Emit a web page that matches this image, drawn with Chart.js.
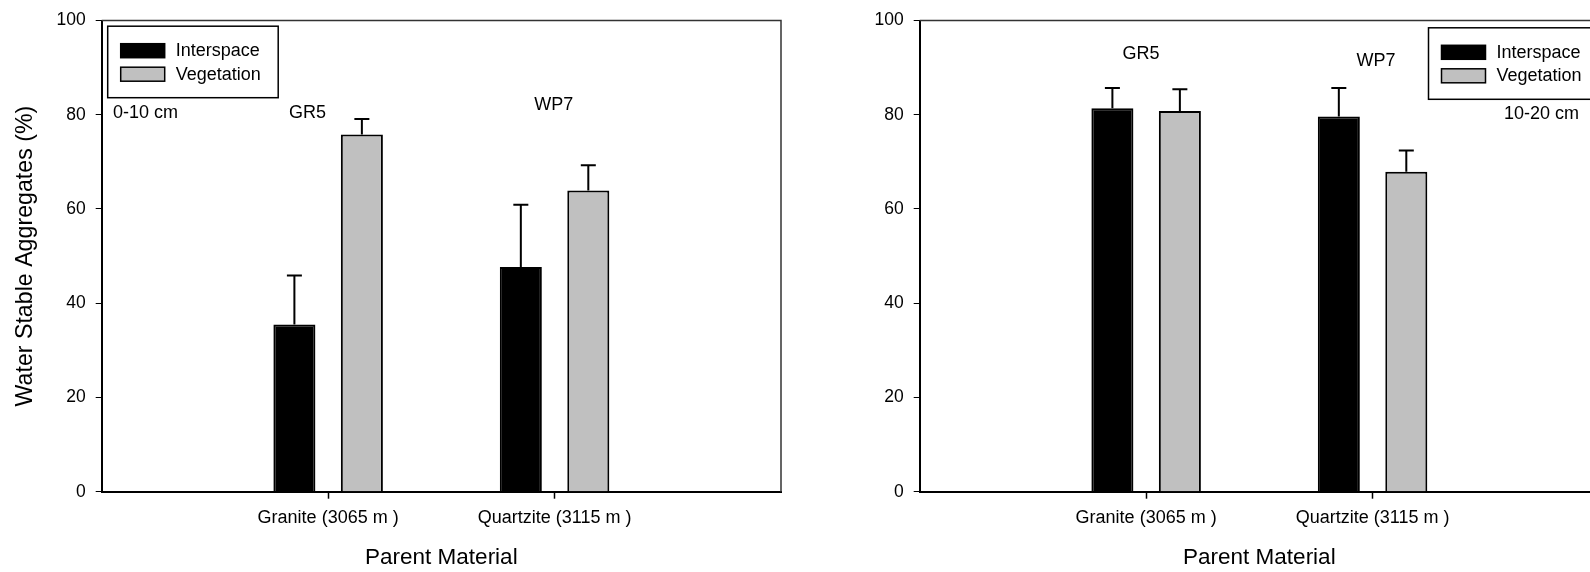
<!DOCTYPE html>
<html>
<head>
<meta charset="utf-8">
<script src="https://cdn.jsdelivr.net/npm/chart.js@4.4.1/dist/chart.umd.min.js"></script>
<style>
  html, body { margin: 0; padding: 0; background: #fff; }
  body { width: 1590px; height: 572px; overflow: hidden; position: relative; }
  canvas { position: absolute; top: 0; }
  #chartTop { left: 0; }
  #chartSub { left: 818px; }
</style>
</head>
<body>
<canvas id="chartTop" width="818" height="572"></canvas>
<canvas id="chartSub" width="818" height="572"></canvas>
<script>
// sites along the x axis, with an empty slot at both ends
const sites = ["Granite (3065 m )", "Quartzite (3115 m )"];
const seriesNames = ["Interspace", "Vegetation"];

// 0-10 cm depth
const interspaceTop = [35.5, 47.7];
const interspaceTopErr = [10.4, 13.2];
const vegetationTop = [75.8, 63.9];
const vegetationTopErr = [3.3, 5.4];

// 10-20 cm depth
const interspaceSub = [81.4, 79.6];
const interspaceSubErr = [4.3, 6.1];
const vegetationSub = [80.8, 67.9];
const vegetationSubErr = [4.6, 4.5];

const yMin = 0;
const yMax = 100;
const yStep = 20;

const labels = ["", ...sites, ""];
const pad = arr => [null, ...arr, null];

Chart.defaults.font.family = "'Liberation Sans', Arial, sans-serif";
Chart.defaults.color = "#000";

// frame, error bars, legend box and text notes
const panelExtras = {
    id: "panelExtras",
    afterDatasetsDraw(chart, args, opts) {
        const { ctx, chartArea: a, scales: { x, y } } = chart;
        ctx.save();

        ctx.strokeStyle = "#333";
        ctx.lineWidth = 1.5;
        ctx.beginPath();
        ctx.moveTo(a.left, a.top);
        ctx.lineTo(a.right, a.top);
        ctx.lineTo(a.right, a.bottom);
        ctx.stroke();

        // upper error bars
        ctx.strokeStyle = "#000";
        ctx.lineWidth = 2;
        chart.data.datasets.forEach((ds, i) => {
            const meta = chart.getDatasetMeta(i);
            meta.data.forEach((bar, j) => {
                const v = ds.data[j];
                const e = ds.errors[j];
                if (v == null || e == null) return;
                const top = y.getPixelForValue(v + e);
                ctx.beginPath();
                ctx.moveTo(bar.x, bar.y);
                ctx.lineTo(bar.x, top);
                ctx.moveTo(bar.x - 7.5, top);
                ctx.lineTo(bar.x + 7.5, top);
                ctx.stroke();
            });
        });

        // legend
        const bw = 170.5, bh = 71.5;
        const bx = opts.legendSide === "right" ? a.right - bw : a.left + 6;
        const by = a.top + (opts.legendSide === "right" ? 7.3 : 5.7);
        ctx.fillStyle = "#fff";
        ctx.fillRect(bx, by, bw, bh);
        ctx.lineWidth = 1.5;
        ctx.strokeStyle = "#000";
        ctx.strokeRect(bx, by, bw, bh);
        ctx.font = "18px 'Liberation Sans', Arial, sans-serif";
        ctx.textAlign = "left";
        ctx.textBaseline = "middle";
        chart.data.datasets.forEach((ds, i) => {
            const sy = by + 17.5 + i * 23.5;
            ctx.fillStyle = ds.backgroundColor;
            ctx.fillRect(bx + 13, sy, 44, 14);
            ctx.strokeRect(bx + 13, sy, 44, 14);
            ctx.fillStyle = "#000";
            ctx.fillText(ds.label, bx + 68, sy + 7.5);
        });

        // notes placed in axis units
        ctx.textAlign = "center";
        (opts.notes || []).forEach(n => {
            ctx.fillText(n.text, x.getPixelForValue(n.x), y.getPixelForValue(n.y));
        });

        ctx.restore();
    }
};

function makePanel(canvasId, interspace, interspaceErr, vegetation, vegetationErr, opts) {
    const ctx = document.getElementById(canvasId).getContext("2d");
    return new Chart(ctx, {
        type: "bar",
        data: {
            labels: labels,
            datasets: [{
                label: seriesNames[0],
                data: pad(interspace),
                errors: pad(interspaceErr),
                backgroundColor: "#000000",
                borderColor: "#000000",
                borderWidth: 2
            }, {
                label: seriesNames[1],
                data: pad(vegetation),
                errors: pad(vegetationErr),
                backgroundColor: "#c0c0c0",
                borderColor: "#000000",
                borderWidth: 2
            }]
        },
        options: {
            responsive: false,
            animation: false,
            devicePixelRatio: 1,
            categoryPercentage: 0.596,
            barPercentage: 0.623,
            layout: { padding: { top: 16, right: 37, left: 0, bottom: 0 } },
            plugins: {
                legend: { display: false },
                tooltip: { enabled: false },
                panelExtras: opts
            },
            scales: {
                x: {
                    offset: false,
                    border: { display: true, color: "#000", width: 2 },
                    grid: {
                        offset: false,
                        drawOnChartArea: false,
                        tickLength: 7,
                        tickWidth: 1.5,
                        tickColor: c => labels[c.index] ? "#000" : "rgba(0,0,0,0)"
                    },
                    ticks: { font: { size: 18 }, padding: 9, maxRotation: 0, autoSkip: false },
                    title: {
                        display: true,
                        text: "Parent Material",
                        font: { size: 22.5 },
                        padding: { top: 0, bottom: 1 }
                    },
                    afterFit: s => { s.height = 80.3; }
                },
                y: {
                    min: yMin,
                    max: yMax,
                    border: { display: true, color: "#000", width: 2 },
                    grid: { drawOnChartArea: false, tickLength: 6, tickWidth: 1, tickColor: "#000" },
                    ticks: { stepSize: yStep, font: { size: 17.5 }, padding: 10 },
                    title: {
                        display: opts.yTitle,
                        text: "Water Stable Aggregates (%)",
                        font: { size: 23.2 },
                        padding: { top: 11.5, bottom: 0 }
                    },
                    afterFit: s => { s.width = 101.7; }
                }
            }
        },
        plugins: [panelExtras]
    });
}

makePanel("chartTop", interspaceTop, interspaceTopErr, vegetationTop, vegetationTopErr, {
    yTitle: true,
    legendSide: "left",
    notes: [
        { text: "0-10 cm", x: 0.193, y: 80.4 },
        { text: "GR5", x: 0.909, y: 80.3 },
        { text: "WP7", x: 1.996, y: 82 }
    ]
});

makePanel("chartSub", interspaceSub, interspaceSubErr, vegetationSub, vegetationSubErr, {
    yTitle: false,
    legendSide: "right",
    notes: [
        { text: "10-20 cm", x: 2.746, y: 80.1 },
        { text: "GR5", x: 0.977, y: 92.9 },
        { text: "WP7", x: 2.015, y: 91.3 }
    ]
});
</script>
</body>
</html>
